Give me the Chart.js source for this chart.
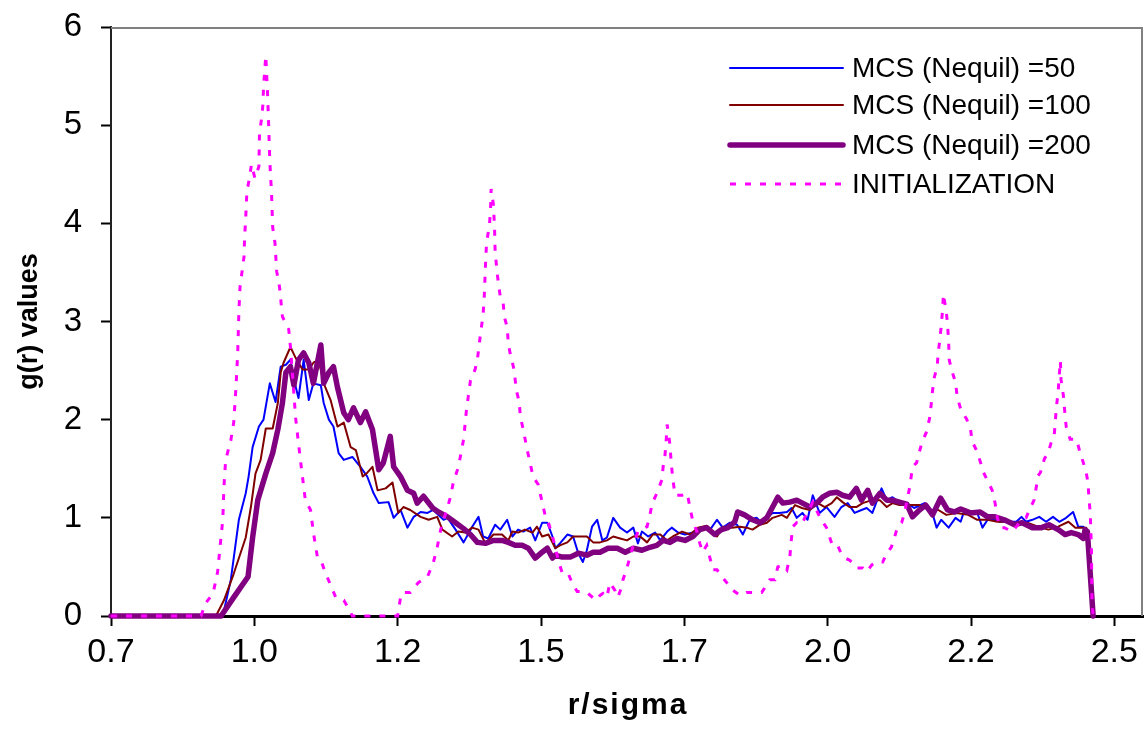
<!DOCTYPE html>
<html>
<head>
<meta charset="utf-8">
<script src="https://cdn.jsdelivr.net/npm/chart.js@4.4.1/dist/chart.umd.min.js"></script>
<style>
  html, body { margin: 0; padding: 0; background: #fff; }
  #wrap { width: 1148px; height: 736px; }
</style>
</head>
<body>
<div id="wrap"><canvas id="gr"></canvas></div>
<script>
// series labels
var seriesNames = ["MCS (Nequil) =50", "MCS (Nequil) =100", "MCS (Nequil) =200", "INITIALIZATION"];

// x axis ticks (step 0.25, labels rounded the Excel way)
var xTickValues = [0.7, 0.95, 1.2, 1.45, 1.7, 1.95, 2.2, 2.45];
var xTickLabels = ["0.7", "1.0", "1.2", "1.5", "1.7", "2.0", "2.2", "2.5"];

// MCS (Nequil) = 50
var rBlue = [0.700,0.895,0.909,0.923,0.935,0.940,0.947,0.958,0.966,0.977,
  0.987,0.996,1.005,1.013,1.019,1.027,1.036,1.045,1.053,1.066,
  1.071,1.080,1.088,1.097,1.106,1.121,1.135,1.147,1.158,1.167,
  1.184,1.193,1.205,1.217,1.228,1.240,1.252,1.262,1.280,1.287,
  1.301,1.315,1.330,1.341,1.349,1.358,1.370,1.379,1.391,1.400,
  1.410,1.419,1.431,1.440,1.452,1.461,1.470,1.475,1.483,1.496,
  1.506,1.515,1.523,1.530,1.539,1.548,1.557,1.565,1.576,1.588,
  1.600,1.611,1.619,1.626,1.637,1.649,1.658,1.670,1.678,1.689,
  1.701,1.715,1.727,1.745,1.757,1.767,1.779,1.792,1.802,1.814,
  1.826,1.835,1.844,1.854,1.866,1.879,1.887,1.896,1.906,1.915,
  1.924,1.936,1.948,1.962,1.974,1.985,1.997,2.009,2.018,2.028,
  2.044,2.053,2.063,2.075,2.088,2.101,2.119,2.131,2.140,2.148,
  2.161,2.173,2.182,2.187,2.199,2.211,2.220,2.229,2.242,2.251,
  2.267,2.279,2.288,2.296,2.307,2.319,2.331,2.343,2.354,2.366,
  2.378,2.387,2.396,2.401,2.413];
var gBlue = [0,0,0.37,0.98,1.25,1.42,1.72,1.93,2.00,2.37,
  2.18,2.54,2.56,2.61,2.41,2.22,2.61,2.20,2.37,2.35,
  2.17,2.00,1.93,1.66,1.59,1.62,1.52,1.42,1.25,1.15,
  1.16,1.00,1.08,0.90,1.01,1.06,1.05,1.08,0.98,1.00,
  0.88,0.75,0.91,1.01,0.81,0.79,0.93,0.88,0.98,0.81,
  0.88,0.86,0.90,0.77,0.95,0.95,0.81,0.69,0.74,0.83,
  0.81,0.64,0.55,0.67,0.91,0.98,0.77,0.80,1.00,0.90,
  0.85,0.90,0.74,0.86,0.81,0.85,0.77,0.86,0.90,0.85,
  0.83,0.85,0.90,0.88,0.98,0.90,0.95,0.93,0.83,0.98,
  1.00,0.95,1.00,1.05,1.05,1.06,1.10,1.00,1.05,0.98,
  1.23,1.05,1.11,1.01,1.11,1.15,1.05,1.08,1.10,1.05,
  1.30,1.18,1.21,1.16,1.15,1.10,1.15,1.08,0.90,0.98,
  0.90,1.00,0.96,1.05,1.06,1.05,0.90,0.98,0.98,0.96,
  0.96,0.96,1.01,0.96,0.98,1.01,0.96,1.01,0.96,1.00,
  1.06,0.91,0.91,0.85,0];

// MCS (Nequil) = 100
var rBrown = [0.700,0.883,0.897,0.914,0.935,0.944,0.952,0.961,0.970,0.982,
  0.991,0.996,1.001,1.013,1.022,1.034,1.045,1.053,1.062,1.071,
  1.083,1.095,1.106,1.118,1.127,1.139,1.147,1.156,1.165,1.179,
  1.191,1.201,1.210,1.222,1.240,1.254,1.269,1.278,1.295,1.306,
  1.318,1.330,1.341,1.353,1.367,1.382,1.393,1.400,1.410,1.422,
  1.435,1.443,1.452,1.463,1.475,1.483,1.496,1.506,1.518,1.530,
  1.541,1.553,1.565,1.576,1.588,1.600,1.611,1.623,1.635,1.645,
  1.658,1.670,1.680,1.696,1.710,1.724,1.739,1.757,1.767,1.783,
  1.797,1.809,1.819,1.832,1.844,1.854,1.870,1.879,1.893,1.905,
  1.919,1.933,1.945,1.957,1.966,1.976,1.988,2.000,2.011,2.027,
  2.041,2.053,2.063,2.075,2.093,2.110,2.128,2.143,2.157,2.175,
  2.195,2.211,2.229,2.246,2.263,2.281,2.298,2.317,2.335,2.352,
  2.370,2.382,2.392,2.401,2.413];
var gBrown = [0,0,0.16,0.43,0.80,1.11,1.45,1.59,1.91,1.91,
  2.17,2.48,2.58,2.74,2.63,2.51,2.51,2.58,2.61,2.37,
  2.20,1.93,1.97,1.72,1.69,1.42,1.46,1.52,1.28,1.30,
  1.36,1.05,1.11,1.08,1.01,0.98,1.01,0.88,0.81,0.86,
  0.85,0.90,0.88,0.74,0.83,0.83,0.77,0.86,0.85,0.88,
  0.85,0.91,0.81,0.83,0.69,0.72,0.75,0.81,0.81,0.81,
  0.75,0.75,0.77,0.81,0.79,0.77,0.81,0.81,0.75,0.83,
  0.83,0.77,0.81,0.86,0.83,0.90,0.92,0.81,0.91,0.90,
  0.91,0.90,0.88,0.93,0.95,1.00,1.03,1.00,1.13,1.10,
  1.08,1.15,1.11,1.15,1.21,1.16,1.11,1.11,1.15,1.18,
  1.18,1.11,1.15,1.13,1.13,1.13,1.08,1.08,1.03,1.05,
  1.03,0.98,0.98,0.96,0.96,0.93,0.95,0.91,0.88,0.91,
  0.96,0.90,0.90,0.90,0];

// MCS (Nequil) = 200
var rPurple = [0.700,0.892,0.914,0.939,0.947,0.956,0.970,0.982,0.991,0.999,
  1.005,1.013,1.019,1.027,1.036,1.045,1.053,1.066,1.071,1.080,
  1.088,1.095,1.106,1.114,1.123,1.135,1.144,1.156,1.167,1.175,
  1.187,1.193,1.205,1.217,1.228,1.234,1.245,1.261,1.271,1.287,
  1.301,1.315,1.327,1.339,1.353,1.367,1.382,1.393,1.405,1.417,
  1.428,1.440,1.452,1.461,1.470,1.475,1.487,1.501,1.515,1.530,
  1.541,1.553,1.567,1.583,1.597,1.611,1.626,1.640,1.652,1.663,
  1.675,1.687,1.701,1.715,1.727,1.739,1.753,1.765,1.776,1.788,
  1.793,1.805,1.819,1.832,1.844,1.854,1.863,1.872,1.884,1.896,
  1.906,1.919,1.931,1.941,1.953,1.966,1.976,1.988,2.000,2.009,
  2.020,2.028,2.041,2.053,2.063,2.075,2.088,2.098,2.110,2.121,
  2.133,2.147,2.159,2.171,2.182,2.199,2.216,2.229,2.242,2.258,
  2.276,2.289,2.307,2.323,2.336,2.352,2.364,2.375,2.387,2.396,
  2.399,2.403,2.413];
var gPurple = [0,0,0.19,0.40,0.80,1.18,1.45,1.66,1.90,2.17,
  2.48,2.54,2.35,2.61,2.68,2.58,2.37,2.76,2.37,2.48,
  2.54,2.33,2.07,2.00,2.12,1.97,2.08,1.90,1.49,1.56,
  1.83,1.52,1.42,1.28,1.25,1.15,1.22,1.10,1.06,1.01,
  0.95,0.89,0.83,0.75,0.74,0.77,0.77,0.75,0.72,0.72,
  0.69,0.59,0.65,0.69,0.59,0.62,0.60,0.60,0.64,0.62,
  0.65,0.65,0.69,0.69,0.65,0.69,0.67,0.70,0.72,0.77,
  0.75,0.79,0.77,0.81,0.88,0.90,0.83,0.88,0.90,0.96,
  1.06,1.03,0.98,0.95,1.00,1.11,1.21,1.15,1.16,1.18,
  1.15,1.11,1.15,1.21,1.25,1.26,1.23,1.21,1.30,1.18,
  1.28,1.15,1.25,1.18,1.18,1.16,1.14,1.01,1.08,1.13,
  1.03,1.20,1.08,1.06,1.09,1.05,1.06,1.01,1.01,0.98,
  0.93,0.95,0.90,0.90,0.93,0.88,0.83,0.85,0.83,0.79,
  0.88,0.86,0];

// INITIALIZATION
var rInit = [0.700,0.857,0.865,0.878,0.886,0.892,0.895,0.897,0.900,0.909,
  0.914,0.918,0.921,0.923,0.925,0.932,0.933,0.935,0.937,0.942,
  0.945,0.951,0.958,0.959,0.963,0.965,0.966,0.968,0.970,0.973,
  0.975,0.977,0.980,0.982,0.986,0.989,0.994,0.999,1.010,1.013,
  1.022,1.027,1.031,1.036,1.039,1.048,1.053,1.060,1.066,1.074,
  1.092,1.106,1.113,1.121,1.200,1.205,1.208,1.222,1.236,1.252,
  1.262,1.269,1.275,1.287,1.292,1.297,1.306,1.315,1.320,1.323,
  1.327,1.335,1.339,1.344,1.349,1.351,1.353,1.355,1.360,1.362,
  1.363,1.367,1.369,1.370,1.374,1.379,1.384,1.386,1.391,1.393,
  1.396,1.403,1.407,1.412,1.414,1.419,1.426,1.431,1.436,1.445,
  1.452,1.457,1.463,1.470,1.475,1.480,1.487,1.497,1.504,1.513,
  1.523,1.532,1.546,1.553,1.558,1.565,1.570,1.579,1.584,1.591,
  1.593,1.600,1.605,1.611,1.619,1.635,1.640,1.644,1.649,1.654,
  1.661,1.663,1.666,1.668,1.670,1.675,1.677,1.680,1.684,1.696,
  1.705,1.710,1.715,1.722,1.727,1.732,1.739,1.750,1.757,1.767,
  1.785,1.797,1.809,1.835,1.844,1.849,1.858,1.863,1.872,1.879,
  1.884,1.886,1.889,1.896,1.905,1.910,1.915,1.924,1.936,1.941,
  1.948,1.957,1.966,1.971,1.980,1.988,1.994,2.000,2.011,2.018,
  2.027,2.035,2.046,2.053,2.061,2.067,2.072,2.079,2.084,2.093,
  2.098,2.105,2.114,2.122,2.128,2.131,2.133,2.136,2.141,2.143,
  2.145,2.148,2.150,2.152,2.157,2.159,2.161,2.162,2.166,2.173,
  2.176,2.182,2.192,2.199,2.202,2.211,2.222,2.232,2.237,2.242,
  2.246,2.251,2.258,2.272,2.279,2.288,2.296,2.305,2.310,2.314,
  2.317,2.321,2.328,2.335,2.340,2.345,2.347,2.349,2.352,2.354,
  2.356,2.357,2.361,2.364,2.366,2.373,2.384,2.390,2.396,2.401,
  2.404,2.406,2.408,2.410,2.411,2.413];
var gInit = [0,0,0.13,0.23,0.45,0.81,0.98,1.32,1.59,1.79,
  1.97,2.33,2.68,3.09,3.35,3.66,3.85,4.06,4.32,4.48,
  4.60,4.46,4.58,4.92,5.08,5.21,5.39,5.55,5.71,5.33,
  5.00,4.63,4.31,3.96,3.80,3.51,3.35,3.05,2.92,2.74,
  2.02,1.76,1.56,1.32,1.18,1.08,0.85,0.60,0.57,0.44,
  0.19,0.16,0.09,0,0,0.19,0.24,0.24,0.34,0.40,
  0.54,0.70,0.88,1.11,1.21,1.36,1.52,1.80,2.10,2.23,
  2.40,2.51,2.61,2.85,3.07,3.25,3.55,3.80,3.98,4.14,
  4.35,4.19,3.95,3.71,3.47,3.25,3.19,3.05,2.94,2.78,
  2.68,2.51,2.30,2.18,2.03,1.90,1.69,1.56,1.42,1.34,
  1.16,1.03,0.95,0.81,0.70,0.57,0.44,0.44,0.34,0.25,
  0.25,0.23,0.16,0.21,0.23,0.19,0.34,0.26,0.19,0.30,
  0.37,0.49,0.60,0.72,0.86,0.91,1.03,1.15,1.21,1.28,
  1.39,1.52,1.62,1.76,1.95,1.74,1.57,1.39,1.23,1.23,
  1.25,1.10,0.96,0.86,0.74,0.65,0.72,0.47,0.47,0.39,
  0.26,0.21,0.24,0.24,0.32,0.37,0.37,0.50,0.52,0.47,
  0.60,0.74,0.91,0.95,0.93,1.00,1.05,1.16,1.01,0.96,
  0.90,0.74,0.74,0.67,0.59,0.57,0.54,0.49,0.49,0.45,
  0.52,0.55,0.55,0.64,0.70,0.81,0.91,0.95,1.05,1.31,
  1.52,1.56,1.76,1.87,2.02,2.18,2.30,2.43,2.54,2.70,
  2.78,2.95,3.09,3.28,3.09,2.98,2.79,2.61,2.51,2.38,
  2.23,2.11,2.01,1.91,1.78,1.67,1.46,1.34,1.28,1.15,
  1.00,0.90,0.90,0.86,0.91,0.98,1.00,1.12,1.18,1.32,
  1.43,1.46,1.60,1.67,1.77,1.83,1.98,2.13,2.28,2.46,
  2.60,2.41,2.25,2.05,1.93,1.80,1.80,1.67,1.56,1.46,
  1.36,1.18,1.05,0.70,0.15,0];

function pts(rs, gs) {
  return rs.map(function (r, i) { return {x: r, y: gs[i]}; });
}

var FONT = '"Liberation Sans", Arial, sans-serif';

// gray frame on top and right of the plot area
var frame = {
  id: 'frame',
  beforeDatasetsDraw: function (chart) {
    var a = chart.chartArea, ctx = chart.ctx;
    ctx.save();
    ctx.strokeStyle = '#808080';
    ctx.lineWidth = 2;
    ctx.beginPath();
    ctx.moveTo(a.left, a.top + 1);
    ctx.lineTo(a.right - 1, a.top + 1);
    ctx.lineTo(a.right - 1, a.bottom);
    ctx.stroke();
    ctx.restore();
  }
};

// legend inside the plot (top right, no box) and the spaced-out x title
var insideLegend = {
  id: 'insideLegend',
  afterDatasetsDraw: function (chart) {
    var ctx = chart.ctx, a = chart.chartArea;
    var rows = [68, 105, 145, 184];
    ctx.save();
    ctx.font = '28px ' + FONT;
    ctx.textBaseline = 'middle';
    ctx.fillStyle = '#000';
    chart.data.datasets.forEach(function (ds, i) {
      var y = rows[i];
      ctx.strokeStyle = ds.borderColor;
      ctx.lineWidth = ds.borderWidth;
      ctx.setLineDash(ds.borderDash || []);
      ctx.lineCap = ds.borderDash ? 'butt' : 'round';
      ctx.beginPath();
      ctx.moveTo(730, y);
      ctx.lineTo(843, y);
      ctx.stroke();
      ctx.fillText(ds.label, 852, y + 1);
    });
    ctx.font = 'bold 30px ' + FONT;
    ctx.textAlign = 'center';
    if ('letterSpacing' in ctx) ctx.letterSpacing = '2px';
    ctx.fillText('r/sigma', (a.left + a.right) / 2 + 1, 706);
    ctx.restore();
  }
};

new Chart(document.getElementById('gr'), {
  type: 'line',
  data: {
    datasets: [
      {label: seriesNames[0], data: pts(rBlue, gBlue), borderColor: '#0000FF', borderWidth: 2, order: 3},
      {label: seriesNames[1], data: pts(rBrown, gBrown), borderColor: '#800000', borderWidth: 2, order: 2},
      {label: seriesNames[2], data: pts(rPurple, gPurple), borderColor: '#800080', borderWidth: 5.5, order: 1},
      {label: seriesNames[3], data: pts(rInit, gInit), borderColor: '#FF00FF', borderWidth: 3, borderDash: [6, 9], order: 0,
        borderJoinStyle: 'miter', borderCapStyle: 'butt'}
    ]
  },
  options: {
    responsive: true,
    maintainAspectRatio: false,
    animation: false,
    events: [],
    layout: {padding: {left: 0, top: 27, right: 5, bottom: 0}},
    elements: {
      point: {radius: 0},
      line: {tension: 0, fill: false, borderJoinStyle: 'round', borderCapStyle: 'round'}
    },
    datasets: {line: {clip: false}},
    plugins: {legend: {display: false}, tooltip: {enabled: false}},
    scales: {
      x: {
        type: 'linear',
        min: 0.7,
        max: 2.5,
        afterBuildTicks: function (scale) {
          scale.ticks = xTickValues.map(function (v) { return {value: v}; });
        },
        afterFit: function (scale) { scale.height = 120; },
        ticks: {
          autoSkip: false,
          maxRotation: 0,
          padding: 6,
          color: '#000',
          font: {family: FONT, size: 34},
          callback: function (v, i) { return xTickLabels[i]; }
        },
        grid: {drawOnChartArea: false, drawTicks: true, tickLength: 10, tickColor: '#000', tickWidth: 2},
        border: {display: true, color: '#000', width: 3},
        title: {display: false, text: 'r/sigma'}
      },
      y: {
        min: 0,
        max: 6,
        afterFit: function (scale) { scale.width = 111; scale.paddingTop = 0; },
        ticks: {stepSize: 1, padding: 19, color: '#000', font: {family: FONT, size: 33}},
        grid: {drawOnChartArea: false, drawTicks: true, tickLength: 10, tickColor: '#000', tickWidth: 2},
        border: {display: true, color: '#222', width: 2},
        title: {display: true, text: 'g(r) values', color: '#000',
          font: {family: FONT, size: 27, weight: 'bold'}, padding: {top: 13, bottom: 0}}
      }
    }
  },
  plugins: [frame, insideLegend]
});
</script>
</body>
</html>
